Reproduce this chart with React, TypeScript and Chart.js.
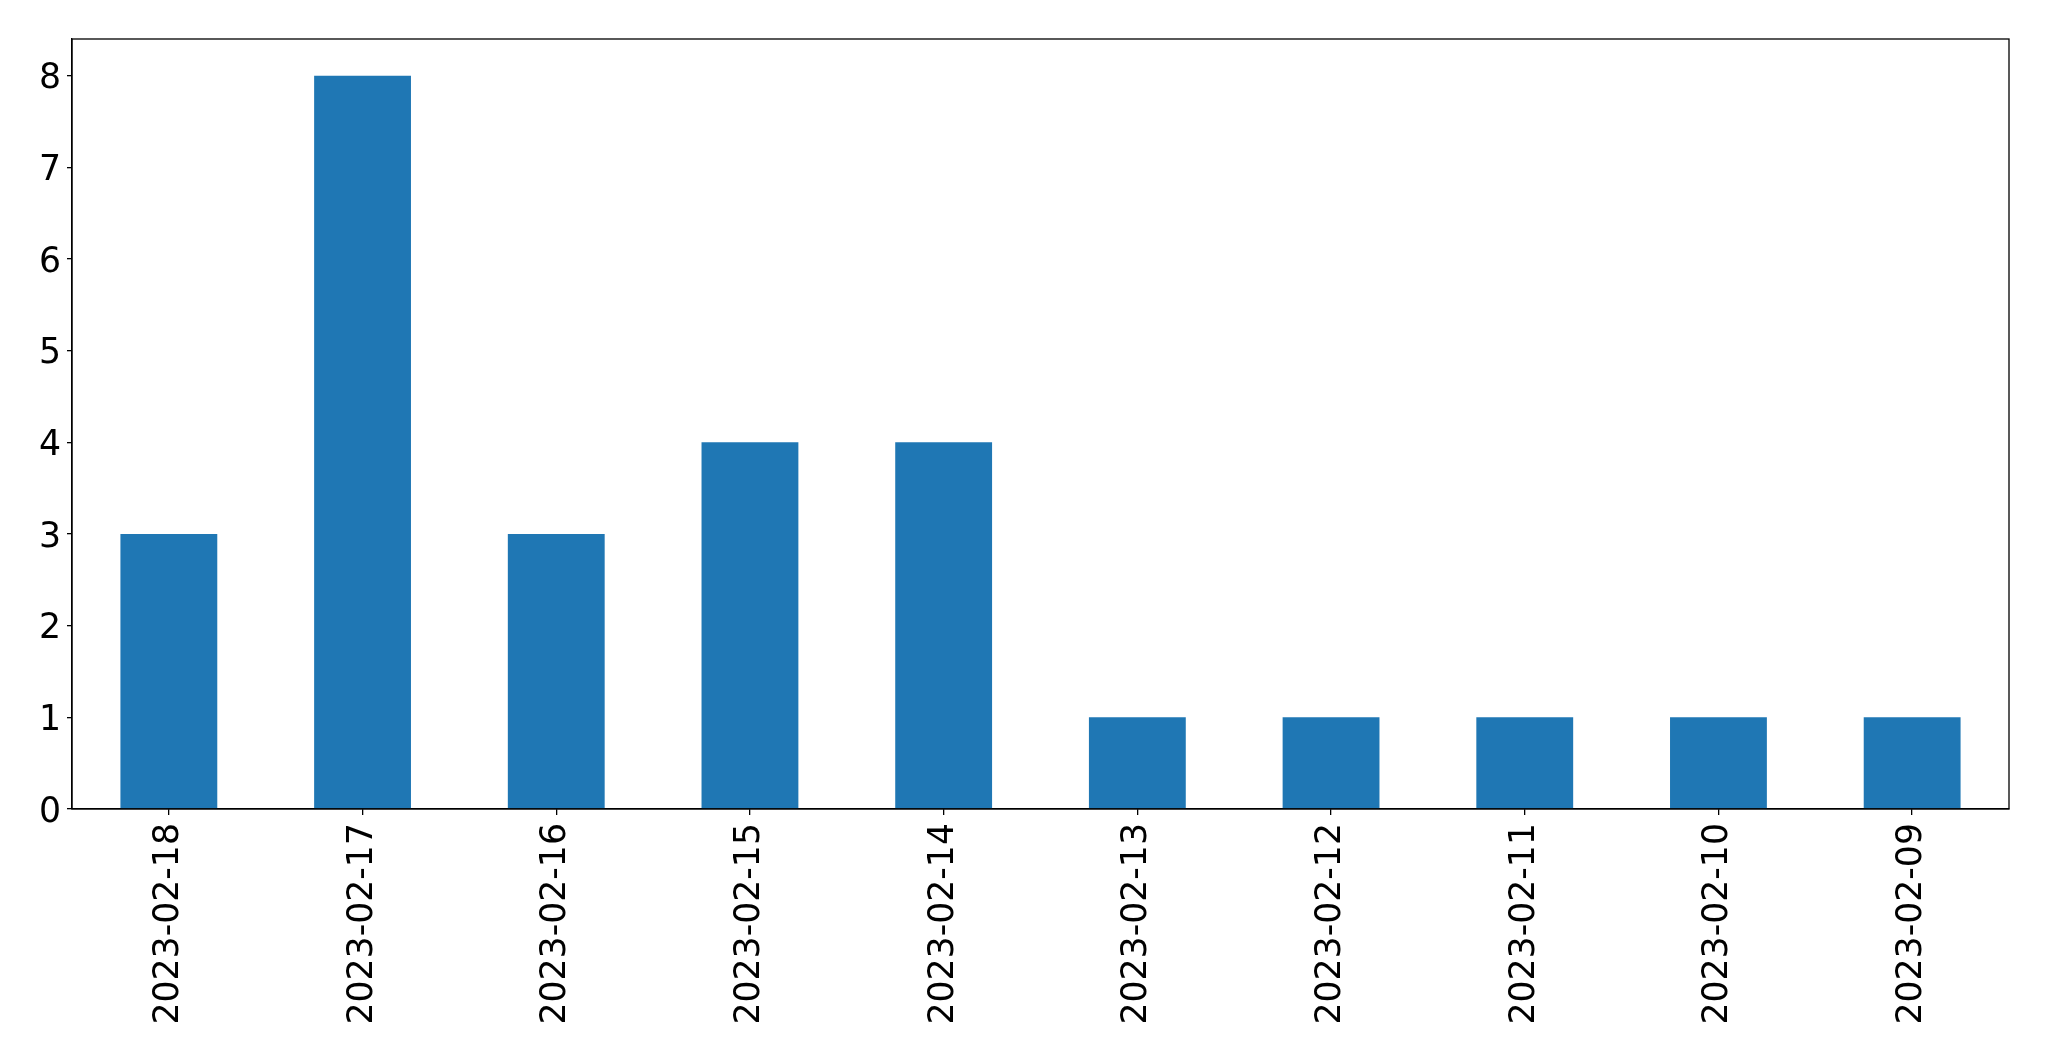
import React, { useEffect, useRef } from "react";
import { Chart, registerables } from "chart.js";

Chart.register(...registerables);

const categories = [
  "2023-02-18",
  "2023-02-17",
  "2023-02-16",
  "2023-02-15",
  "2023-02-14",
  "2023-02-13",
  "2023-02-12",
  "2023-02-11",
  "2023-02-10",
  "2023-02-09",
];
const counts = [3, 8, 3, 4, 4, 1, 1, 1, 1, 1];
const yTicks = [0, 1, 2, 3, 4, 5, 6, 7, 8];
const yMax = 8.4;

const W = 2049;
const H = 1061;
const PLOT_LEFT = 72;
const PLOT_TOP = 39;
const PLOT_RIGHT = 2009;
const PLOT_BOTTOM = 809;

const framePlugin = {
  id: "frame",
  afterDraw(chart: any) {
    const { ctx, chartArea } = chart;
    ctx.save();
    ctx.strokeStyle = "#000";
    ctx.lineWidth = 1.3;
    ctx.strokeRect(
      chartArea.left,
      chartArea.top,
      chartArea.right - chartArea.left,
      chartArea.bottom - chartArea.top
    );
    ctx.restore();
  },
};

export default function App() {
  const ref = useRef<HTMLCanvasElement | null>(null);
  useEffect(() => {
    if (!ref.current) return;
    const font = { family: "'DejaVu Sans', sans-serif", size: 34.7 };
    const chart = new Chart(ref.current, {
      type: "bar",
      data: {
        labels: categories,
        datasets: [
          {
            data: counts,
            backgroundColor: "#1f77b4",
            borderWidth: 0,
            barPercentage: 0.5,
            categoryPercentage: 1.0,
          },
        ],
      },
      options: {
        animation: false,
        responsive: false,
        maintainAspectRatio: false,
        devicePixelRatio: 1,
        layout: {
          padding: { left: 0, top: PLOT_TOP, right: W - PLOT_RIGHT, bottom: 0 },
        },
        plugins: {
          legend: { display: false },
          tooltip: { enabled: false },
          title: { display: false },
        },
        scales: {
          x: {
            type: "category",
            offset: true,
            grid: {
              display: true,
              offset: false,
              drawOnChartArea: false,
              drawTicks: true,
              tickLength: 6,
              color: "#000",
              lineWidth: 1.3,
            },
            border: { display: true, color: "#000", width: 1.3 },
            ticks: {
              font,
              color: "#000",
              minRotation: 90,
              maxRotation: 90,
              autoSkip: false,
              padding: 8,
            },
            afterFit(scale: any) {
              scale.height = H - PLOT_BOTTOM;
            },
          },
          y: {
            type: "linear",
            min: 0,
            max: yMax,
            grid: {
              display: true,
              drawOnChartArea: false,
              drawTicks: true,
              tickLength: 5,
              color: "#000",
              lineWidth: 1.3,
            },
            border: { display: true, color: "#000", width: 1.3 },
            ticks: {
              font,
              color: "#000",
              padding: 6,
              labelOffset: 3.5,
            },
            afterBuildTicks(scale: any) {
              scale.ticks = yTicks.map((v) => ({ value: v }));
            },
            afterFit(scale: any) {
              scale.width = PLOT_LEFT;
            },
          },
        },
      },
      plugins: [framePlugin],
    });
    return () => chart.destroy();
  }, []);

  return (
    <div style={{ position: "fixed", left: 0, top: 0, width: W, height: H, background: "#fff" }}>
      <canvas ref={ref} width={W} height={H} style={{ width: W, height: H, display: "block" }} />
    </div>
  );
}
